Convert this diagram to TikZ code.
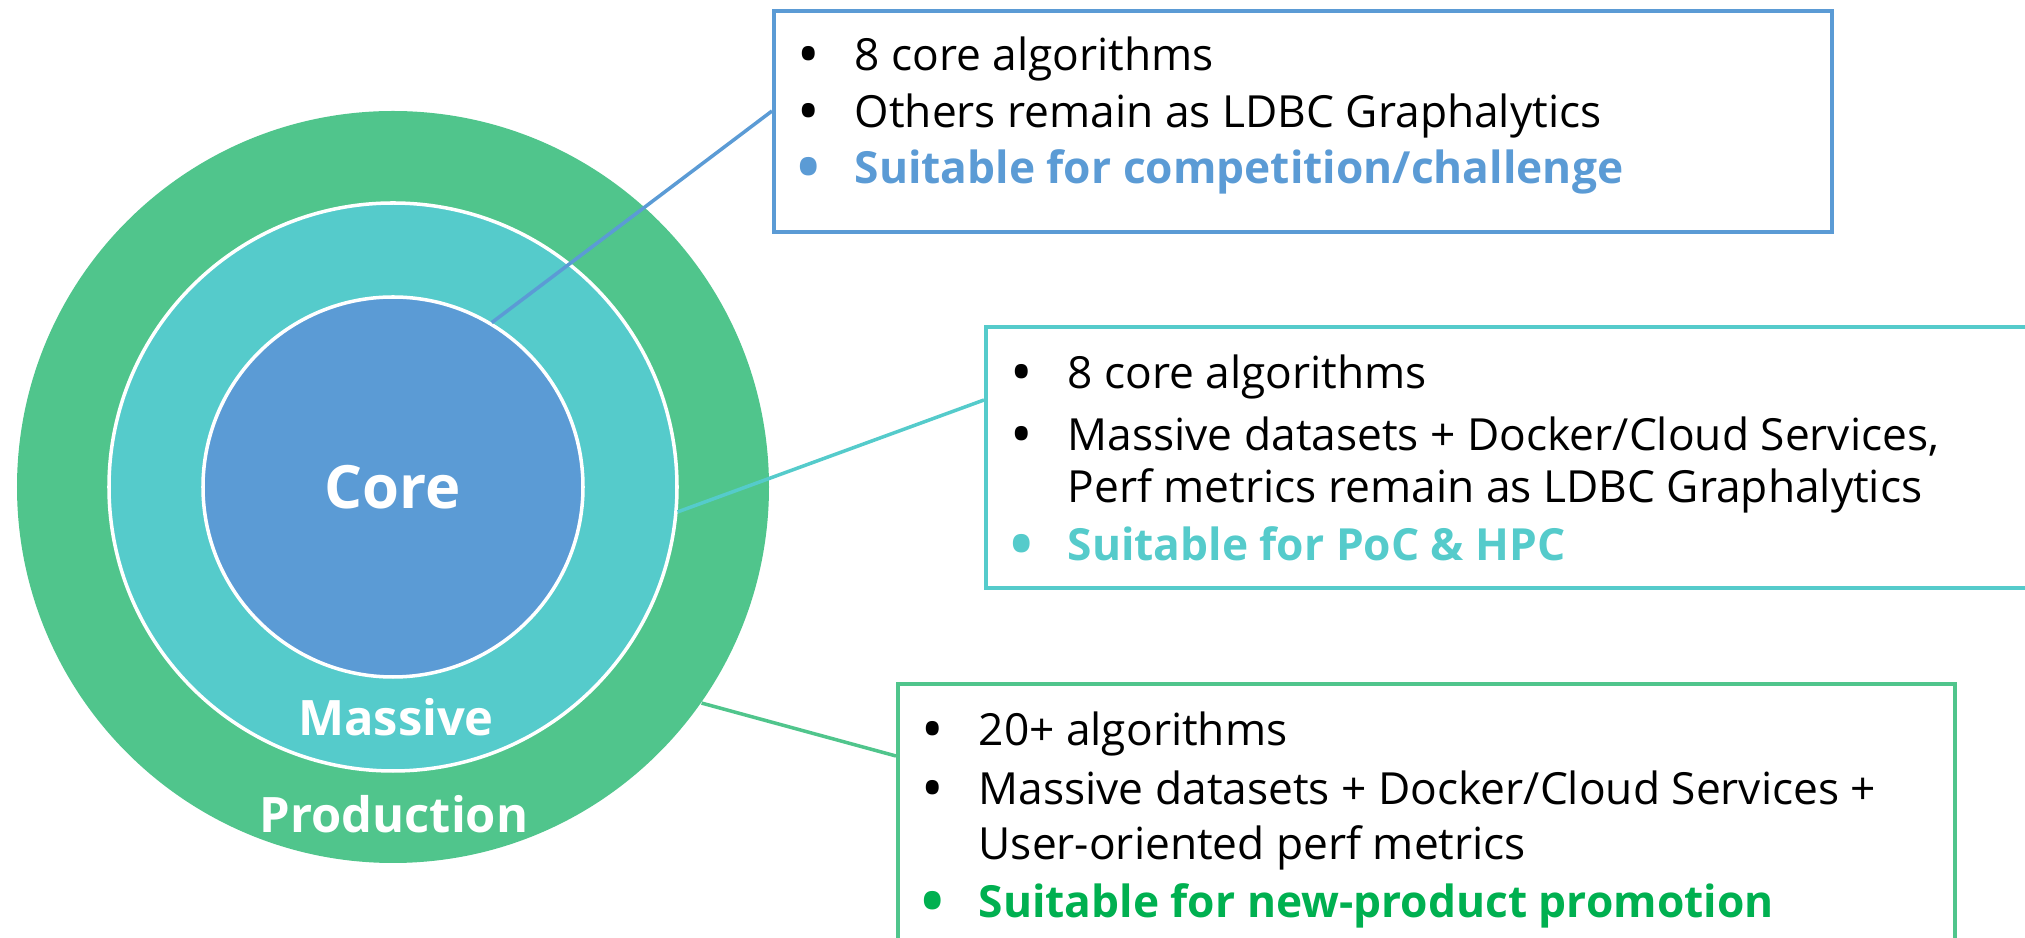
\documentclass[tikz,border=0pt]{standalone}
\usepackage{fontspec}
\setmainfont{Open Sans}
\usepackage{xcolor}
\usetikzlibrary{calc}
\definecolor{coreblue}{HTML}{5B9BD5}
\definecolor{massteal}{HTML}{55CBCB}
\definecolor{prodgreen}{HTML}{50C58C}
\definecolor{notegreen}{HTML}{00B050}
\newcommand{\bul}{\makebox[0.57cm][l]{\raisebox{-0.2ex}{\scalebox{1.35}{\textbullet}}}}
\newcommand{\nobul}{\hspace*{0.57cm}}

\begin{document}
\begin{tikzpicture}[
  ring/.style={circle, inner sep=0pt},
  infobox/.style={draw, line width=1.2pt, anchor=north west, inner sep=0pt},
  item/.style={anchor=west, inner sep=0pt, text height=0.72em, text depth=0pt,
               font=\fontsize{12.6}{15}\selectfont},
  boldit/.style={item, font=\bfseries\fontsize{12.6}{15}\selectfont},
  ringlabel/.style={text=white, font=\bfseries\fontsize{13.9}{17}\selectfont}]
  \useasboundingbox (0,0) rectangle (20.25,9.38);
  \coordinate (O) at (3.93,4.51);
  % rings
  \node[ring, fill=prodgreen, minimum size=7.52cm] (production) at (O) {};
  \node[ring, fill=massteal, draw=white, line width=1pt, minimum size=5.68cm] (massive) at (O) {};
  \node[ring, fill=coreblue, draw=white, line width=1pt, minimum size=3.80cm,
        text=white, font=\bfseries\fontsize{17}{20}\selectfont] (core) at (O) {Core};
  \node[ringlabel] (masslbl) at (3.96,2.21) {Massive};
  \node[ringlabel] (prodlbl) at (3.94,1.24) {Production};
  % boxes
  \node[infobox, draw=coreblue, minimum width=10.58cm, minimum height=2.21cm] (box1) at (7.72,9.29) {};
  \node[infobox, draw=massteal, minimum width=10.60cm, minimum height=2.61cm] (box2) at (9.84,6.13) {};
  \node[infobox, draw=prodgreen, minimum width=10.57cm, minimum height=2.90cm] (box3) at (8.96,2.56) {};
  % connectors
  \draw[coreblue, line width=1pt] (core.59) -- ([yshift=-1.02cm]box1.north west);
  \draw[massteal, line width=1pt] (massive.-5) -- ([yshift=-0.75cm]box2.north west);
  \draw[prodgreen, line width=1pt] (production.-35) -- ([yshift=-0.74cm]box3.north west);
  % texts of box 1
  \node[item] (a1) at (7.97,8.80) {\bul 8 core algorithms};
  \node[item] (a2) at (7.97,8.23) {\bul Others remain as LDBC Graphalytics};
  \node[boldit, text=coreblue] (a3) at (7.97,7.67) {\bul Suitable for competition/challenge};
  % texts of box 2
  \node[item] (b1) at (10.10,5.62) {\bul 8 core algorithms};
  \node[item] (b2) at (10.10,5.00) {\bul Massive datasets + Docker/Cloud Services,};
  \node[item] (b3) at (10.10,4.48) {\nobul Perf metrics remain as LDBC Graphalytics};
  \node[boldit, text=massteal] (b4) at (10.10,3.90) {\bul Suitable for PoC \& HPC};
  % texts of box 3
  \node[item] (c1) at (9.21,2.05) {\bul 20+ algorithms};
  \node[item] (c2) at (9.21,1.46) {\bul Massive datasets + Docker/Cloud Services +};
  \node[item] (c3) at (9.21,0.91) {\nobul User-oriented perf metrics};
  \node[boldit, text=notegreen] (c4) at (9.21,0.33) {\bul Suitable for new-product promotion};
\end{tikzpicture}
\end{document}
